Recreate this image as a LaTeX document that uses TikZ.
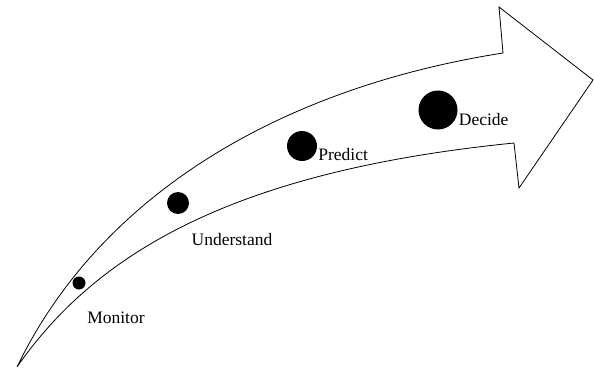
\documentclass[tikz,border=0pt]{standalone}
\usepackage{fontspec}
\setmainfont{Liberation Serif}
\usepackage{tikz}
\usetikzlibrary{positioning}

\begin{document}
\begin{tikzpicture}[
    x=1pt, y=-1pt,
    journey/.style={draw=black, line width=0.8pt, fill=white, line join=miter},
    milestone/.style={circle, fill=black, inner sep=0pt},
    step_label/.style={font=\fontsize{17.5}{20}\selectfont, inner sep=0pt}
]

    \useasboundingbox (0,0) rectangle (594,372);

    % --- The curved arrow ---
    \draw[journey] (17,367) .. controls (100,195) and (280,88) .. (503,53)
        -- (499,7) -- (593,80) -- (519,188) -- (514,143)
        .. controls (235,171) and (97,252) .. (17,367) -- cycle;

    % --- Milestones (growing) ---
    \node[milestone, minimum size=13pt] (monitor) at (79,283) {};
    \node[milestone, minimum size=22pt] (understand) at (178,203) {};
    \node[milestone, minimum size=30pt] (predict) at (302,146) {};
    \node[milestone, minimum size=39pt] (decide) at (438,110) {};

    % --- Labels ---
    \node[step_label] (monitor_lbl) at (116,318) {Monitor};
    \node[step_label] (understand_lbl) at (232,240) {Understand};
    \node[step_label, right=1pt of predict, yshift=-9pt] (predict_lbl) {Predict};
    \node[step_label, right=1pt of decide, yshift=-10pt] (decide_lbl) {Decide};

\end{tikzpicture}
\end{document}
